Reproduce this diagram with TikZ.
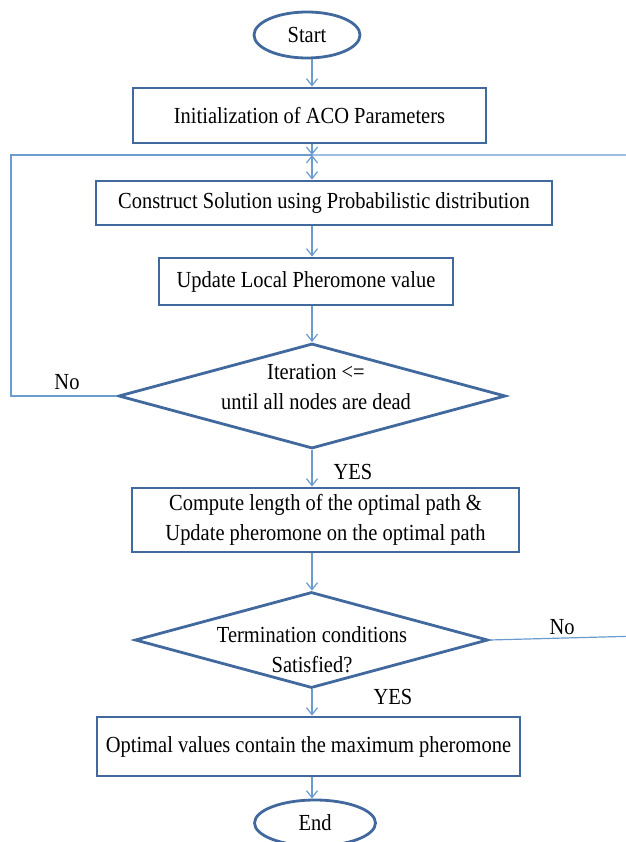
\documentclass[tikz,border=0pt]{standalone}
\usepackage{fontspec}
% a slightly condensed, taller serif face
\setmainfont{Liberation Serif}[FakeStretch=0.89]
\usetikzlibrary{shapes.geometric,arrows.meta}
\definecolor{boxblue}{HTML}{41699E}
\definecolor{linkblue}{HTML}{6C9BD0}
\begin{document}
\begin{tikzpicture}[x=1pt,y=-1pt,
  every node/.style={font=\fontsize{23}{30}\selectfont, text=black},
  procbox/.style={draw=boxblue, line width=2.8pt, fill=white, rectangle, inner sep=0pt, align=center},
  terminal/.style={draw=boxblue, line width=2.8pt, fill=white, ellipse, inner sep=0pt},
  decision/.style={draw=boxblue, line width=2.8pt, fill=white, diamond, inner sep=0pt},
  link/.style={draw=linkblue, line width=1.2pt},
  tip/.tip={Straight Barb[length=7pt,width=11pt]},
  arr/.style={link, -tip},
  lbl/.style={inner sep=0pt}]
\useasboundingbox[fill=white] (0,0) rectangle (625,842);

% flowchart steps
\node[terminal, minimum width=106pt, minimum height=46pt] (start) at (307,35) {Start};
\node[procbox, minimum width=353pt, minimum height=55pt] (init) at (309.5,115.5) {Initialization of ACO Parameters};
\node[procbox, minimum width=456pt, minimum height=44pt] (construct) at (324,203) {Construct Solution using Probabilistic distribution};
\node[procbox, minimum width=294pt, minimum height=47pt] (update) at (306,281.5) {Update Local Pheromone value};
\node[decision, minimum width=387pt, minimum height=105pt] (iter) at (312,396) {};
\node[lbl, align=center] (itertext) at (316,387) {Iteration <=\\until all nodes are dead};
\node[procbox, minimum width=387pt, minimum height=64pt] (compute) at (325.5,520) {Compute length of the optimal path \&\\Update pheromone on the optimal path};
\node[decision, minimum width=353pt, minimum height=96pt] (term) at (311.5,640) {};
\node[lbl, align=center] (termtext) at (312,650) {Termination conditions\\Satisfied?};
\node[procbox, minimum width=423pt, minimum height=59pt] (optimal) at (308.5,746.5) {Optimal values contain the maximum pheromone};
\node[terminal, minimum width=121pt, minimum height=46pt] (end) at (315,823) {End};

% branch labels
\node[lbl] (no1) at (67,382) {No};
\node[lbl] (yes1) at (353,472) {YES};
\node[lbl] (no2) at (562,627) {No};
\node[lbl] (yes2) at (393,697) {YES};

% junction of the two loops above the construction step
\coordinate (j) at (312,155);
\coordinate (lcorner) at (11,155);
\coordinate (rbend) at (640,636);
\coordinate (rcorner) at (640,155);

% main flow
\draw[arr] (start.south -| j) -- (init.north -| j);
\draw[arr] (init.south -| j) -- (j);
\draw[link, tip-tip] (j) -- (construct.north -| j);
\draw[arr] (construct.south -| j) -- (update.north -| j);
\draw[arr] (update.south -| j) -- (iter.north);
\draw[arr] (iter.south) -- (compute.north -| j);
\draw[arr] (compute.south -| j) -- (term.north -| j);
\draw[arr] (term.south -| j) -- (optimal.north -| j);
\draw[arr] (optimal.south -| j) -- (end.north -| j);

% loops back
\draw[link] (iter.west) -| (lcorner) -- (j);
\draw[link] (term.east) -- (rbend) -- (rcorner) -- (j);
\end{tikzpicture}
\end{document}
